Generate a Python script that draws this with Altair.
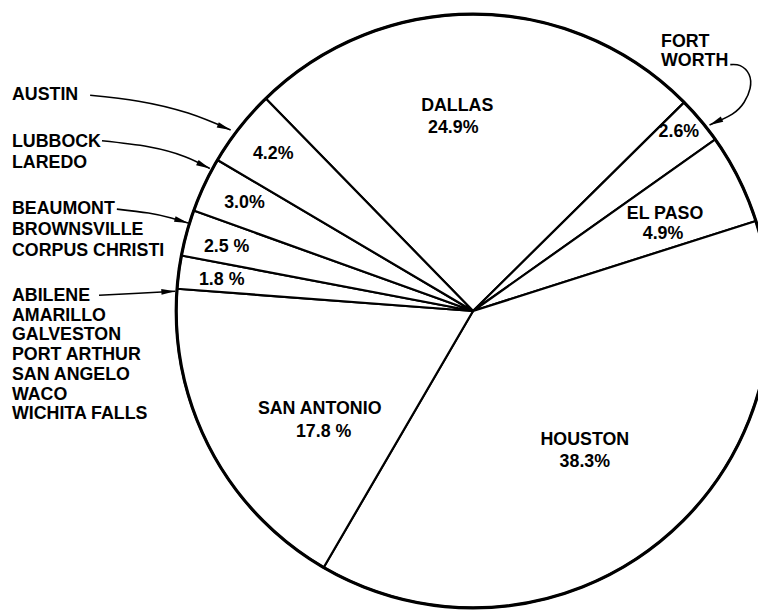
import math
import altair as alt
import pandas as pd

# ---------------- data ----------------
slice_names = ["DALLAS", "FORT WORTH", "EL PASO", "HOUSTON", "SAN ANTONIO",
               "ABILENE GROUP", "BEAUMONT GROUP", "LUBBOCK GROUP", "AUSTIN"]
slice_shares = [24.9, 2.6, 4.9, 38.3, 17.8, 1.8, 2.5, 3.0, 4.2]
inner_names = ["DALLAS", "", "EL PASO", "HOUSTON", "SAN ANTONIO", "", "", "", ""]
inner_pcts = ["24.9%", "2.6%", "4.9%", "38.3%", "17.8 %", "1.8 %", "2.5 %", "3.0%", "4.2%"]

outside_groups = [
    ["AUSTIN"],
    ["LUBBOCK", "LAREDO"],
    ["BEAUMONT", "BROWNSVILLE", "CORPUS CHRISTI"],
    ["ABILENE", "AMARILLO", "GALVESTON", "PORT ARTHUR", "SAN ANGELO", "WACO", "WICHITA FALLS"],
    ["FORT", "WORTH"],
]

# ---------------- layout (page pixels) ----------------
OFF = 8
W, H = 758, 607
CX, CY, R = 478 - OFF, 311 - OFF, 300
START_DEG = 315.7

# inner label anchor (center x, y of name line) ; pct line below
inner_x = [462, 686, 672, 591, 323, 224, 229, 247, 276]
inner_pct_x = [458, 686, 670, 591, 327, 224, 229, 247, 276]
inner_name_y = [104, 0, 213, 441, 410, 0, 0, 0, 0]
inner_pct_y = [126, 130, 233, 464, 433, 280, 246, 202, 152]

outside_x = [12, 12, 12, 12, 668]
outside_y0 = [93, 140, 208, 296, 39]
outside_step = [21, 21, 21, 19.9, 19]

arrow_paths = [
    [(91, 93), (140, 99), (190, 111), (233, 128)],
    [(103, 139), (150, 145), (187, 155), (212, 167)],
    [(118, 208), (150, 212), (173, 217), (190, 222)],
    [(100, 295), (140, 293), (177, 291)],
    [(738, 62), (748, 63), (757, 72), (758, 86), (752, 100), (740, 112), (717, 123)],
]

FONT = "Liberation Sans"
FS = 18
FW = "bold"

# ---------------- tables ----------------
pie_df = pd.DataFrame({"name": slice_names, "share": slice_shares,
                       "idx": list(range(len(slice_names)))})

txt_rows = []
for i in range(len(slice_names)):
    if inner_names[i]:
        txt_rows.append({"t": inner_names[i], "px": inner_x[i] - OFF, "py": inner_name_y[i] - OFF})
    txt_rows.append({"t": inner_pcts[i], "px": inner_pct_x[i] - OFF, "py": inner_pct_y[i] - OFF})
inner_df = pd.DataFrame(txt_rows)

out_rows = []
for g, lines in enumerate(outside_groups):
    for j, ln in enumerate(lines):
        out_rows.append({"t": ln, "px": outside_x[g] - OFF,
                         "py": outside_y0[g] + j * outside_step[g] - OFF})
out_df = pd.DataFrame(out_rows)

arrow_rows, head_rows = [], []
for a, pts in enumerate(arrow_paths):
    for k, (x, y) in enumerate(pts):
        arrow_rows.append({"a": a, "k": k, "px": x - OFF, "py": y - OFF})
    (x1, y1), (x2, y2) = pts[-2], pts[-1]
    ang = math.degrees(math.atan2(x2 - x1, -(y2 - y1))) % 360
    head_rows.append({"a": a, "px": x2 - OFF, "py": y2 - OFF, "ang": ang})
arrow_df = pd.DataFrame(arrow_rows)
head_df = pd.DataFrame(head_rows)

# ---------------- chart ----------------
start = math.radians(START_DEG)
pie = alt.Chart(pie_df).mark_arc(outerRadius=R, fill="white", stroke="black",
                                 strokeWidth=2.2, strokeJoin="round").encode(
    theta=alt.Theta("share:Q", stack=True,
                    scale=alt.Scale(range=[start, start + 2 * math.pi])),
    order=alt.Order("idx:Q"),
    x=alt.value(CX), y=alt.value(CY),
)

ring = alt.Chart(pd.DataFrame({"v": [1]})).mark_arc(
    outerRadius=R, fillOpacity=0, stroke="black", strokeWidth=3.2).encode(
    theta=alt.Theta("v:Q", scale=alt.Scale(range=[0, 2 * math.pi])),
    x=alt.value(CX), y=alt.value(CY))

inner = alt.Chart(inner_df).mark_text(font=FONT, fontSize=FS, fontWeight=FW,
                                      align="center", baseline="middle",
                                      color="black").encode(
    x=alt.X("px:Q", scale=None), y=alt.Y("py:Q", scale=None), text="t:N")

outside = alt.Chart(out_df).mark_text(font=FONT, fontSize=FS, fontWeight=FW,
                                      align="left", baseline="middle",
                                      color="black").encode(
    x=alt.X("px:Q", scale=None), y=alt.Y("py:Q", scale=None), text="t:N")

arrows = alt.Chart(arrow_df).mark_line(color="black", strokeWidth=1.6,
                                       interpolate="natural").encode(
    x=alt.X("px:Q", scale=None), y=alt.Y("py:Q", scale=None),
    detail="a:N", order="k:Q")

heads = alt.Chart(head_df).mark_point(
    shape="M0,0 L0.42,2 L-0.42,2 Z", size=196, filled=True, color="black",
    opacity=1, strokeWidth=0).encode(
    x=alt.X("px:Q", scale=None), y=alt.Y("py:Q", scale=None),
    angle=alt.Angle("ang:Q", scale=None))

chart = alt.layer(pie, ring, arrows, heads, inner, outside).resolve_scale(
    theta="independent"
).properties(
    width=W, height=H, padding=0, autosize=alt.AutoSizeParams(type="none"),
).configure(background="white").configure_view(stroke=None)

chart.save("out.html", embed_options={"renderer": "svg", "actions": False})
